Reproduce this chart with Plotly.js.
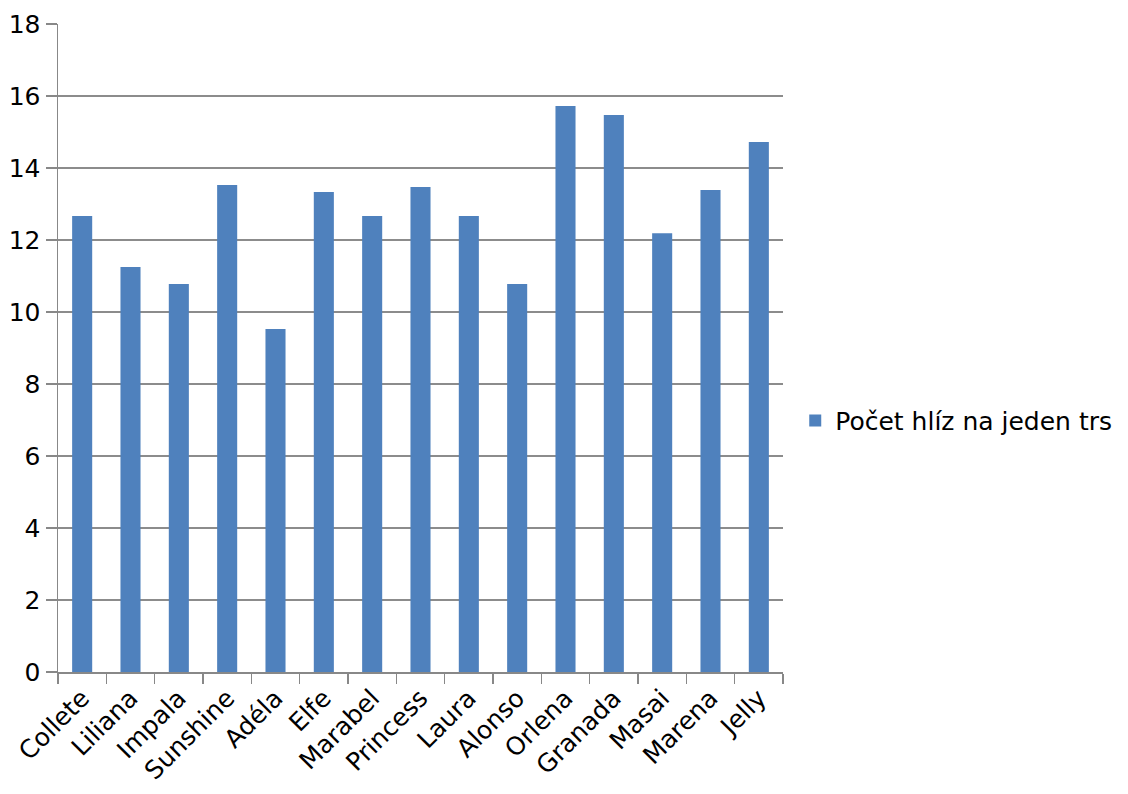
<!DOCTYPE html>
<html>
<head>
<meta charset="utf-8">
<script src="https://cdn.plot.ly/plotly-3.0.1.min.js"></script>
<style>html,body{margin:0;padding:0;background:#fff;}#chart{width:1128px;height:794px;}</style>
</head>
<body>
<div id="chart"></div>
<script>
const categories = ["Collete","Liliana","Impala","Sunshine","Adéla","Elfe","Marabel","Princess","Laura","Alonso","Orlena","Granada","Masai","Marena","Jelly"];
const values = [12.67, 11.25, 10.78, 13.53, 9.53, 13.33, 12.67, 13.47, 12.67, 10.78, 15.72, 15.47, 12.19, 13.39, 14.72];
const seriesName = "Počet hlíz na jeden trs";
const yTicks = [0, 2, 4, 6, 8, 10, 12, 14, 16, 18];

const font = "DejaVu Sans, sans-serif";
Plotly.newPlot("chart", [{
  type: "bar",
  x: categories,
  y: values,
  name: seriesName,
  marker: {color: "#4f81bd"},
  showlegend: true
}], {
  width: 1128, height: 794,
  margin: {l: 58, r: 345, t: 24, b: 122},
  paper_bgcolor: "#fff", plot_bgcolor: "#fff",
  bargap: 0.585,
  font: {family: font, size: 24, color: "#000"},
  xaxis: {
    type: "category",
    tickangle: -45,
    ticks: "outside", tickson: "boundaries", ticklen: 10, tickcolor: "#888", tickwidth: 1.5,
    showline: true, linecolor: "#888", linewidth: 1.5,
    showgrid: false, zeroline: false,
    tickfont: {family: font, size: 25}
  },
  yaxis: {
    range: [0, 18], tickvals: yTicks, ticktext: yTicks.map(String),
    ticks: "outside", ticklen: 11, tickcolor: "#888", tickwidth: 1.5,
    showline: true, linecolor: "#888", linewidth: 1.5,
    showgrid: true, gridcolor: "#8c8c8c", gridwidth: 1.5,
    zeroline: false,
    tickfont: {family: font, size: 25}
  },
  legend: {
    xref: "container", yref: "container",
    x: 0.705, xanchor: "left", y: 0.47, yanchor: "middle",
    font: {family: font, size: 25}, bgcolor: "rgba(0,0,0,0)"
  }
}, {displayModeBar: false, staticPlot: true});
</script>
</body>
</html>
